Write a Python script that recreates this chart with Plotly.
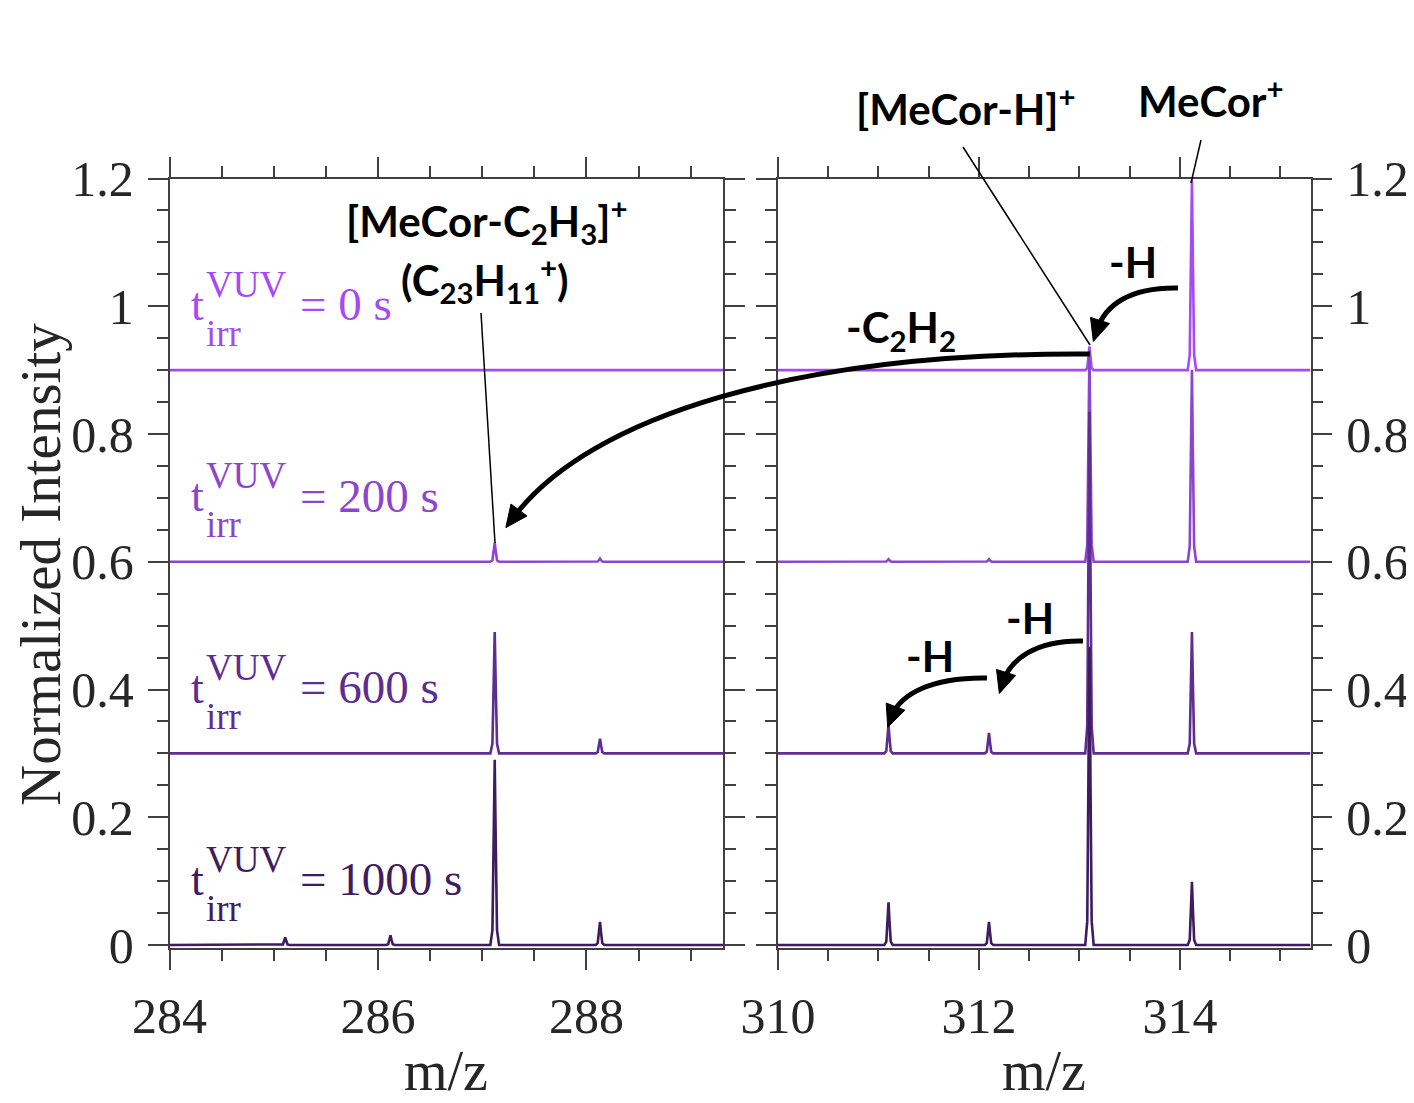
import plotly.graph_objects as go

# ---------------- data ----------------
TIMES = ["0 s", "200 s", "600 s", "1000 s"]
OFFSETS = [0.9, 0.6, 0.3, 0.0]
COLORS = ["#a64bf4", "#8c46cd", "#5d2d91", "#3e1c5e"]

LEFT_RANGE = [284, 289.31]
RIGHT_RANGE = [310, 315.30]

PEAKS_LEFT_MZ = [285.11, 286.12, 287.12, 288.13]
H_LEFT = [
    [0.000, 0.000, 0.000, 0.000],   # 0 s
    [0.000, 0.000, 0.030, 0.005],   # 200 s
    [0.000, 0.000, 0.190, 0.023],   # 600 s
    [0.012, 0.015, 0.290, 0.036],   # 1000 s
]

PEAKS_RIGHT_MZ = [311.10, 312.10, 313.10, 314.12]
H_RIGHT = [
    [0.000, 0.000, 0.037, 0.298],   # 0 s
    [0.004, 0.004, 0.330, 0.300],   # 200 s
    [0.045, 0.032, 0.535, 0.190],   # 600 s
    [0.067, 0.036, 0.467, 0.099],   # 1000 s
]

# peak profile template (relative m/z offsets and fraction of peak height)
PEAK_DX = [-0.042, -0.022, -0.010, 0.0, 0.010, 0.022, 0.042]
PEAK_FRAC = [0.0, 0.08, 0.55, 1.0, 0.55, 0.08, 0.0]

PAGE_MARGIN = 8          # default body margin of the html page
W, H = 1414 - PAGE_MARGIN, 1103 - PAGE_MARGIN
SERIF = "Liberation Serif"
SANS = "Lato"
AX = "#404040"


def spectrum(xrange_, mzs, heights, offset):
    xs = [xrange_[0]]
    ys = [offset]
    for mz, h in zip(mzs, heights):
        if h <= 0:
            continue
        for dx, f in zip(PEAK_DX, PEAK_FRAC):
            xs.append(mz + dx)
            ys.append(offset + h * f)
    xs.append(xrange_[1])
    ys.append(offset)
    return xs, ys


fig = go.Figure()
for i in range(len(TIMES)):
    xl, yl = spectrum(LEFT_RANGE, PEAKS_LEFT_MZ, H_LEFT[i], OFFSETS[i])
    fig.add_trace(go.Scatter(x=xl, y=yl, mode="lines", xaxis="x", yaxis="y",
                             line=dict(color=COLORS[i], width=2.6), showlegend=False,
                             hoverinfo="skip"))
    xr, yr = spectrum(RIGHT_RANGE, PEAKS_RIGHT_MZ, H_RIGHT[i], OFFSETS[i])
    fig.add_trace(go.Scatter(x=xr, y=yr, mode="lines", xaxis="x2", yaxis="y2",
                             line=dict(color=COLORS[i], width=2.6), showlegend=False,
                             hoverinfo="skip"))


def px(x):
    return (x - PAGE_MARGIN) / W


def py(y):
    return 1 - (y - PAGE_MARGIN) / H


Y_BOTTOM_PX, Y_TOP_PX = 948, 178.5
common_x = dict(
    showline=True, linecolor=AX, linewidth=1.5, mirror="allticks",
    ticks="outside", ticklen=20, tickwidth=1.5, tickcolor=AX,
    minor=dict(dtick=0.5, ticklen=11, tickwidth=1.5, tickcolor=AX, ticks="outside"),
    dtick=2, showgrid=False, zeroline=False, automargin=False,
    tickfont=dict(family=SERIF, size=50, color="#262626"),
    ticklabelstandoff=3,
)
common_y = dict(
    showline=True, linecolor=AX, linewidth=1.5, mirror="allticks",
    ticks="outside", ticklen=20, tickwidth=1.5, tickcolor=AX,
    minor=dict(dtick=0.05, ticklen=11, tickwidth=1.5, tickcolor=AX, ticks="outside"),
    dtick=0.2, tick0=0, showgrid=False, zeroline=False, automargin=False,
    range=[-0.0047, 1.2],
    tickfont=dict(family=SERIF, size=50, color="#262626"),
    ticklabelstandoff=4,
    domain=[py(Y_BOTTOM_PX), py(Y_TOP_PX)],
)

fig.update_layout(
    template="none",
    width=W, height=H,
    margin=dict(l=0, r=0, t=0, b=0, autoexpand=False),
    paper_bgcolor="white", plot_bgcolor="white",
    xaxis=dict(common_x, range=LEFT_RANGE, tick0=284, domain=[px(169.5), px(723)], anchor="y"),
    xaxis2=dict(common_x, range=RIGHT_RANGE, tick0=310, domain=[px(778), px(1310.5)], anchor="y2"),
    yaxis=dict(common_y, anchor="x"),
    yaxis2=dict(common_y, anchor="x2", side="right", matches="y"),
)

annotations = []
# axis titles
for x in (446, 1044):
    annotations.append(dict(text="m/z", x=px(x), y=py(1071), xref="paper", yref="paper",
                            showarrow=False, xanchor="center", yanchor="middle",
                            font=dict(family=SERIF, size=56, color="#262626")))
annotations.append(dict(text="Normalized Intensity", x=px(40), y=py(565), xref="paper", yref="paper",
                        showarrow=False, textangle=-90, xanchor="center", yanchor="middle",
                        font=dict(family=SERIF, size=57, color="#262626")))

# time labels
for i, t in enumerate(TIMES):
    c = COLORS[i]
    base = OFFSETS[i]
    annotations.append(dict(text="t", x=284.187, y=base, yshift=66, xref="x", yref="y",
                            showarrow=False, xanchor="left", yanchor="middle",
                            font=dict(family=SERIF, size=46, color=c)))
    annotations.append(dict(text="VUV", x=284.33, y=base, yshift=86, xref="x", yref="y",
                            showarrow=False, xanchor="left", yanchor="middle",
                            font=dict(family=SERIF, size=37, color=c)))
    annotations.append(dict(text="irr", x=284.33, y=base, yshift=37, xref="x", yref="y",
                            showarrow=False, xanchor="left", yanchor="middle",
                            font=dict(family=SERIF, size=37, color=c)))
    annotations.append(dict(text="= " + t, x=285.23, y=base, yshift=66, xref="x", yref="y",
                            showarrow=False, xanchor="left", yanchor="middle",
                            font=dict(family=SERIF, size=47, color=c)))

# bold species labels
labels = [
    ("[MeCor-C<sub>2</sub>H<sub>3</sub>]<sup>+</sup>", 486, 221),
    ("(C<sub>23</sub>H<sub>11</sub><sup>+</sup>)", 485, 280),
    ("-C<sub>2</sub>H<sub>2</sub>", 901, 330),
    ("[MeCor-H]<sup>+</sup>", 966, 106),
    ("MeCor<sup>+</sup>", 1211, 98),
    ("-H", 1133, 262),
    ("-H", 1030, 618),
    ("-H", 930, 656),
]
for txt, x, y in labels:
    annotations.append(dict(text="<b>" + txt + "</b>", x=px(x), y=py(y), xref="paper", yref="paper",
                            showarrow=False, xanchor="center", yanchor="middle",
                            font=dict(family=SANS, size=42, color="black")))

shapes = []
# thin leader lines
for (x0, y0, x1, y1) in [(481, 313, 495, 543), (963, 147, 1090, 345), (1201, 140, 1191, 183)]:
    shapes.append(dict(type="line", xref="paper", yref="paper", x0=px(x0), y0=py(y0),
                       x1=px(x1), y1=py(y1), line=dict(color="black", width=1.5)))

# curved arrows (cubic Bezier in pixel space) with arrowheads
arrows = [
    [(1090, 354), (800, 352), (590, 415), (513, 518)],
    [(1178, 288), (1130, 287), (1105, 305), (1097, 330)],
    [(1083, 641), (1035, 640), (1010, 660), (1003, 682)],
    [(987, 678), (930, 677), (900, 695), (892, 716)],
]
for p0, p1, p2, p3 in arrows:
    path = "M {},{} C {},{} {},{} {},{}".format(px(p0[0]), py(p0[1]), px(p1[0]), py(p1[1]),
                                                px(p2[0]), py(p2[1]), px(p3[0]), py(p3[1]))
    shapes.append(dict(type="path", xref="paper", yref="paper", path=path,
                       line=dict(color="black", width=5)))
    dx, dy = p3[0] - p2[0], p3[1] - p2[1]
    n = (dx * dx + dy * dy) ** 0.5
    ux, uy = dx / n, dy / n
    L, Wd = 22, 10
    tip = (p3[0] + ux * 12, p3[1] + uy * 12)
    b = (tip[0] - ux * L, tip[1] - uy * L)
    l = (b[0] - uy * Wd, b[1] + ux * Wd)
    r = (b[0] + uy * Wd, b[1] - ux * Wd)
    tri = "M {},{} L {},{} L {},{} Z".format(px(tip[0]), py(tip[1]), px(l[0]), py(l[1]),
                                            px(r[0]), py(r[1]))
    shapes.append(dict(type="path", xref="paper", yref="paper", path=tri,
                       fillcolor="black", line=dict(color="black", width=1)))

fig.update_layout(annotations=annotations, shapes=shapes)
fig.write_html("out.html")
